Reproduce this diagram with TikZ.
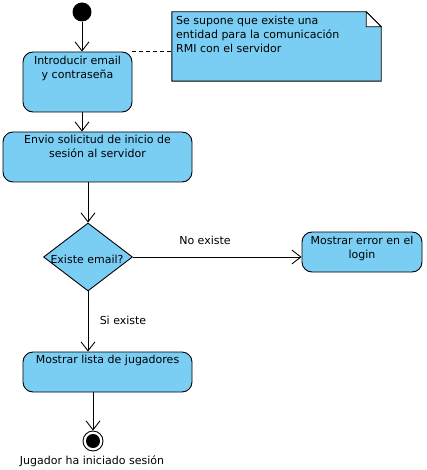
\documentclass[tikz,border=0pt]{standalone}
\usepackage{fontspec}
\setmainfont{DejaVu Sans}
\usetikzlibrary{arrows.meta,shapes.geometric}
\definecolor{actfill}{RGB}{122,206,244}
\tikzset{
  box/.style={draw=black, fill=actfill, rounded corners=10pt, line width=0.9pt, inner sep=0pt},
  txt/.style={inner sep=0pt, align=center, font=\fontsize{11}{14}\selectfont},
  lbl/.style={inner sep=0pt, font=\fontsize{11}{14}\selectfont},
  flow/.style={draw=black, line width=0.9pt, -{Straight Barb[length=9pt,width=14pt,line width=0.9pt]}},
}
\begin{document}
\begin{tikzpicture}[x=1pt,y=-1pt]
\useasboundingbox (0,0) rectangle (426,470);
% start
\node[circle, fill=black, minimum size=19pt, inner sep=0pt] (start) at (82,12) {};
% activity 1
\node[box, minimum width=109pt, minimum height=60pt] (b1) at (77.5,82) {};
\node[txt, anchor=north] (b1t) at (77.5,56) {Introducir email\\y contraseña};
% note
\node[inner sep=0pt, minimum width=209pt, minimum height=69pt] (note) at (276.5,46.5) {};
\draw[fill=actfill, line width=0.9pt] (note.north west) -- ([xshift=-15pt]note.north east) -- ([yshift=-15pt]note.north east) -- (note.south east) -- (note.south west) -- cycle;
\fill[white] ([xshift=-15pt]note.north east) -- ([xshift=-15pt,yshift=-15pt]note.north east) -- ([yshift=-15pt]note.north east) -- cycle;
\draw[line width=0.9pt] ([xshift=-15pt]note.north east) -- ([xshift=-15pt,yshift=-15pt]note.north east) -- ([yshift=-15pt]note.north east) -- cycle;
\node[txt, align=left, anchor=north west] (notet) at (176,16) {Se supone que existe una\\entidad para la comunicación\\RMI con el servidor};
\draw[dash pattern=on 4pt off 3pt, line width=0.9pt] (b1.north east) -- (b1.north east -| note.west);
% activity 2
\node[box, minimum width=189pt, minimum height=50pt] (b2) at (97.5,157) {};
\node[txt, anchor=north] (b2t) at (97.5,135) {Envio solicitud de inicio de\\sesión al servidor};
% decision
\node[diamond, draw=black, fill=actfill, line width=0.9pt, inner sep=0pt, aspect=1.31, minimum width=89pt, minimum height=68pt] (dia) at (88,257) {};
\node[lbl] (diat) at (87,259) {Existe email?};
% activity 3
\node[box, minimum width=120pt, minimum height=40pt] (b3) at (362,252) {};
\node[txt, anchor=north] (b3t) at (362,236) {Mostrar error en el\\login};
% activity 4
\node[box, minimum width=169pt, minimum height=40pt] (b4) at (107.5,372) {};
\node[txt, anchor=north] (b4t) at (107.5,355) {Mostrar lista de jugadores};
% final
\node[circle, draw=black, fill=white, line width=0.9pt, minimum size=20pt, inner sep=0pt] (fin) at (93,441) {};
\node[circle, fill=black, minimum size=14pt, inner sep=0pt] (finin) at (fin.center) {};
\node[lbl] (fint) at (92,461) {Jugador ha iniciado sesión};
% flows
\draw[flow] (start.south) -- (start |- b1.north);
\draw[flow] (start |- b1.south) -- (start |- b2.north);
\draw[flow] (dia |- b2.south) -- (dia.north);
\draw[flow] (dia.east) -- (dia.east -| b3.west);
\node[lbl] (noex) at (205,240) {No existe};
\draw[flow] (dia.south) -- (dia |- b4.north);
\node[lbl] (siex) at (123,320) {Si existe};
\draw[flow] (fin |- b4.south) -- (fin.north);
\end{tikzpicture}
\end{document}
